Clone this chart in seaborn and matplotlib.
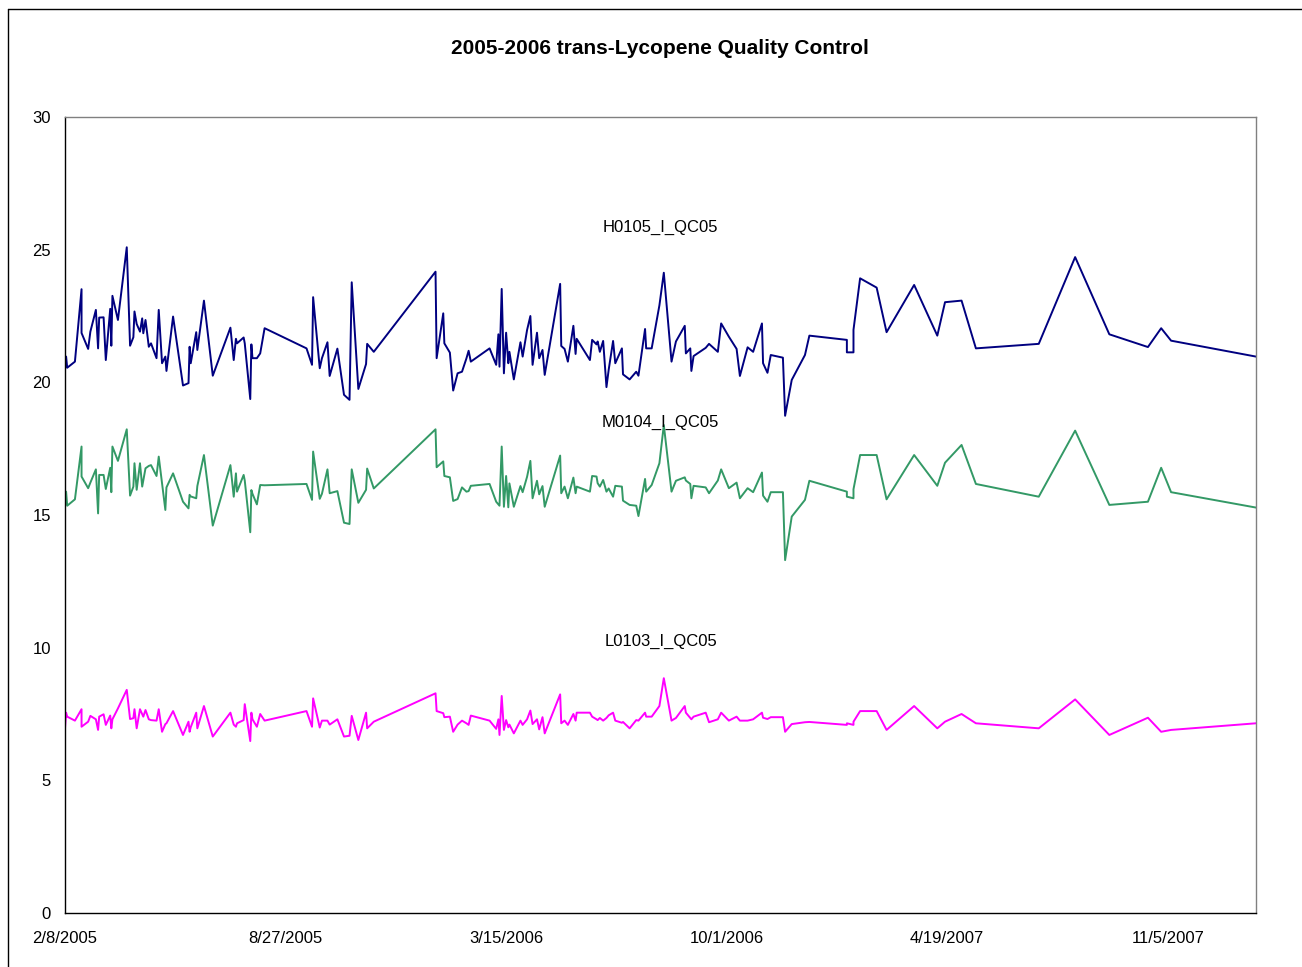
import pandas as pd
import numpy as np
import matplotlib.pyplot as plt
import seaborn as sns
from matplotlib.lines import Line2D

# dias desde 2/8/2005
start = pd.Timestamp("2005-02-08")
day_offsets = [
    0, 1, 2, 9, 15, 15, 21, 23, 28, 30,
    31, 35, 37, 41, 42, 43, 48, 56, 59, 62,
    63, 65, 68, 70, 71, 73, 76, 78, 83, 85,
    88, 91, 92, 98, 107, 112, 113, 114, 119, 120,
    126, 134, 150, 153, 155, 156, 162, 163, 168, 169,
    170, 174, 177, 181, 219, 224, 225, 231, 233, 238,
    240, 247, 253, 258, 260, 266, 273, 274, 280, 336,
    337, 343, 344, 349, 352, 356, 360, 364, 366, 368,
    385, 391, 393, 394, 396, 398, 400, 402, 403, 407,
    413, 415, 419, 422, 424, 428, 430, 433, 435, 449,
    450, 453, 456, 461, 463, 464, 476, 478, 482, 483,
    485, 488, 491, 493, 497, 499, 505, 506, 512, 518,
    520, 526, 527, 532, 539, 543, 550, 554, 562, 563,
    567, 568, 570, 581, 584, 592, 595, 602, 609, 612,
    619, 624, 632, 633, 637, 640, 651, 653, 659, 671,
    675, 709, 709, 715, 715, 721, 736, 745, 770, 791,
    798, 813, 826, 883, 916, 947, 982, 994, 1003, 1080,
]

h0105 = [
    20.47, 20.97, 20.55, 20.78, 23.51, 21.86, 21.26, 21.91, 22.73, 21.28,
    22.44, 22.45, 20.84, 22.77, 21.38, 23.26, 22.35, 25.09, 21.38, 21.70,
    22.67, 22.20, 21.91, 22.41, 21.85, 22.35, 21.34, 21.47, 20.91, 22.73,
    20.72, 20.97, 20.43, 22.48, 19.88, 19.97, 21.34, 20.72, 21.89, 21.22,
    23.08, 20.25, 22.06, 20.84, 21.64, 21.47, 21.69, 21.47, 19.37, 21.43,
    20.91, 20.91, 21.09, 22.04, 21.28, 20.66, 23.21, 20.53, 20.91, 21.51,
    20.24, 21.27, 19.53, 19.34, 23.77, 19.75, 20.69, 21.45, 21.15, 24.17,
    20.91, 22.60, 21.47, 21.12, 19.69, 20.34, 20.40, 20.90, 21.19, 20.78,
    21.28, 20.66, 21.81, 20.59, 23.52, 20.34, 21.87, 20.72, 21.15, 20.11,
    21.51, 20.97, 21.97, 22.50, 20.66, 21.87, 20.91, 21.22, 20.28, 23.71,
    21.37, 21.26, 20.78, 22.13, 21.07, 21.64, 20.84, 21.60, 21.43, 21.54,
    21.15, 21.56, 19.82, 20.47, 21.56, 20.72, 21.28, 20.30, 20.11, 20.40,
    20.25, 22.01, 21.28, 21.28, 22.90, 24.13, 20.78, 21.54, 22.13, 21.09,
    21.28, 20.43, 20.99, 21.30, 21.45, 21.15, 22.22, 21.72, 21.26, 20.24,
    21.32, 21.15, 22.22, 20.72, 20.36, 21.03, 20.93, 18.74, 20.09, 21.03,
    21.76, 21.60, 21.13, 21.13, 21.98, 23.92, 23.57, 21.89, 23.67, 21.76,
    23.02, 23.08, 21.28, 21.45, 24.72, 21.81, 21.33, 22.04, 21.57, 20.97,
]

m0104 = [
    15.31, 15.88, 15.35, 15.59, 17.58, 16.45, 16.01, 16.22, 16.72, 15.06,
    16.51, 16.51, 15.98, 16.78, 15.86, 17.58, 17.04, 18.23, 15.73, 16.07,
    16.95, 15.95, 16.95, 16.07, 16.30, 16.76, 16.85, 16.88, 16.47, 17.20,
    16.20, 15.19, 16.04, 16.57, 15.50, 15.25, 15.76, 15.70, 15.63, 16.09,
    17.26, 14.60, 16.88, 15.69, 16.57, 15.88, 16.51, 16.30, 14.35, 15.94,
    15.80, 15.40, 16.13, 16.12, 16.17, 15.57, 17.39, 15.61, 15.80, 16.72,
    15.82, 15.90, 14.71, 14.66, 16.72, 15.46, 15.95, 16.75, 16.00, 18.23,
    16.80, 17.02, 16.47, 16.42, 15.53, 15.60, 16.04, 15.88, 15.90, 16.10,
    16.17, 15.50, 15.40, 15.35, 17.58, 15.31, 16.47, 15.29, 16.19, 15.31,
    16.09, 15.86, 16.44, 17.04, 15.63, 16.29, 15.78, 16.09, 15.31, 17.24,
    15.82, 16.07, 15.63, 16.41, 15.82, 16.07, 15.88, 16.47, 16.45, 16.20,
    16.07, 16.32, 15.88, 16.00, 15.69, 16.10, 16.07, 15.54, 15.38, 15.35,
    14.96, 16.36, 15.88, 16.13, 16.95, 18.39, 15.88, 16.29, 16.42, 16.30,
    16.17, 15.63, 16.10, 16.04, 15.82, 16.30, 16.72, 16.01, 16.22, 15.63,
    16.01, 15.86, 16.60, 15.73, 15.50, 15.86, 15.86, 13.30, 14.94, 15.57,
    16.29, 15.88, 15.69, 15.63, 15.97, 17.26, 17.26, 15.59, 17.26, 16.10,
    16.97, 17.64, 16.17, 15.69, 18.18, 15.38, 15.50, 16.78, 15.86, 15.28,
]

l0103 = [
    6.96, 7.55, 7.40, 7.25, 7.68, 7.02, 7.21, 7.43, 7.30, 6.90,
    7.40, 7.49, 7.09, 7.44, 6.96, 7.30, 7.71, 8.41, 7.31, 7.34,
    7.68, 6.96, 7.68, 7.49, 7.40, 7.65, 7.30, 7.27, 7.25, 7.68,
    6.83, 7.12, 7.15, 7.61, 6.71, 7.21, 6.83, 7.00, 7.55, 6.96,
    7.80, 6.65, 7.55, 7.10, 7.02, 7.15, 7.27, 7.87, 6.48, 7.55,
    7.30, 7.02, 7.50, 7.25, 7.61, 7.02, 8.09, 6.99, 7.25, 7.25,
    7.10, 7.30, 6.65, 6.68, 7.43, 6.52, 7.55, 6.96, 7.21, 8.28,
    7.61, 7.53, 7.38, 7.40, 6.83, 7.10, 7.25, 7.15, 7.09, 7.44,
    7.25, 6.94, 7.30, 6.71, 8.18, 6.90, 7.27, 7.00, 7.10, 6.77,
    7.25, 7.09, 7.30, 7.63, 7.12, 7.30, 6.92, 7.38, 6.77, 8.24,
    7.15, 7.25, 7.09, 7.50, 7.25, 7.55, 7.55, 7.40, 7.30, 7.27,
    7.35, 7.25, 7.35, 7.45, 7.55, 7.25, 7.17, 7.20, 6.96, 7.27,
    7.25, 7.55, 7.40, 7.40, 7.80, 8.85, 7.25, 7.35, 7.80, 7.55,
    7.35, 7.30, 7.40, 7.55, 7.19, 7.30, 7.55, 7.25, 7.40, 7.25,
    7.25, 7.30, 7.55, 7.36, 7.31, 7.38, 7.38, 6.83, 7.12, 7.19,
    7.20, 7.09, 7.15, 7.09, 7.21, 7.61, 7.61, 6.90, 7.80, 6.96,
    7.21, 7.50, 7.15, 6.96, 8.05, 6.71, 7.36, 6.83, 6.90, 7.15,
]

series_names = ["H0105_I_QC05", "M0104_I_QC05", "L0103_I_QC05"]
series_colors = ["#000080", "#339966", "#FF00FF"]
label_y = [25.85, 18.5, 10.25]

tick_days = [0, 200, 400, 600, 800, 1000]

dates = start + pd.to_timedelta(day_offsets, unit="D")
frames = []
for name, vals in zip(series_names, [h0105, m0104, l0103]):
    frames.append(pd.DataFrame({"data": dates, "valor": vals, "serie": name}))
df = pd.concat(frames, ignore_index=True)

sns.set_style("white")
plt.rcParams['font.family'] = ['Liberation Sans', 'DejaVu Sans']
plt.rcParams['text.color'] = 'black'

fig = plt.figure(figsize=(13.02, 9.67), dpi=100)
ax = fig.add_axes([65 / 1302, 54 / 967, 1191 / 1302, 796 / 967])

sns.lineplot(data=df, x="data", y="valor", hue="serie", palette=dict(zip(series_names, series_colors)),
             estimator=None, sort=False, legend=False, linewidth=1.4, ax=ax)

for name, y in zip(series_names, label_y):
    ax.text(0.5, y, name, transform=ax.get_yaxis_transform(), ha="center", va="center",
            fontsize=12, color="black")

ax.set_xlim(start, start + pd.Timedelta(days=day_offsets[-1]))
ax.set_ylim(0, 30)
ax.set_yticks(range(0, 31, 5))
tick_dates = [start + pd.Timedelta(days=d) for d in tick_days]
ax.set_xticks(tick_dates)
ax.set_xticklabels([f"{d.month}/{d.day}/{d.year}" for d in tick_dates])
ax.set_xlabel("")
ax.set_ylabel("")
ax.tick_params(axis="both", direction="out", length=4, width=1, labelsize=12, colors="black", pad=6)
ax.tick_params(axis="x", pad=9)

for side in ["top", "right"]:
    ax.spines[side].set_color("#808080")
for side in ["left", "bottom"]:
    ax.spines[side].set_color("black")
for s in ax.spines.values():
    s.set_linewidth(1)

fig.text(660 / 1302, 1 - 48.5 / 967, "2005-2006 trans-Lycopene Quality Control",
         ha="center", va="center", fontsize=15, fontweight="bold", color="black")

# moldura externa do gráfico (cortada à direita e embaixo)
fig.add_artist(Line2D([8 / 1302, 8 / 1302], [0, 1 - 8.5 / 967], transform=fig.transFigure, color="black", lw=1))
fig.add_artist(Line2D([8 / 1302, 1], [1 - 8.5 / 967, 1 - 8.5 / 967], transform=fig.transFigure, color="black", lw=1))

fig.savefig("out.png", dpi=100)
